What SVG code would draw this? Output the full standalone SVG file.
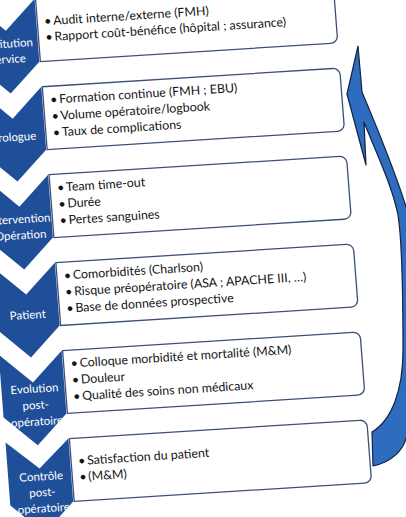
<svg xmlns="http://www.w3.org/2000/svg" width="406" height="517" viewBox="0 0 406 517">
<style>
.chev{fill:#1f4f98;}
.box{fill:#ffffff;stroke:#3b4f78;stroke-width:1.3;}
.lbl{font-family:Lato,"Open Sans",sans-serif;font-size:11.5px;fill:#ffffff;text-anchor:middle;}
.txt{font-family:Lato,"Open Sans",sans-serif;font-size:12.4px;fill:#141414;}
.arr{fill:#2e6cc0;stroke:#14233f;stroke-width:1.2;stroke-linejoin:round;}
</style>
<rect width="406" height="517" fill="#ffffff"/>
<g transform="rotate(-3.6 200 260) translate(-3.6 0) skewX(0.8)">
  <g id="row1">
    <path class="box" d="M56,-11 H347 A7,7 0 0 1 354,-4 V45 A7,7 0 0 1 347,52 H56 Z"/>
    <path class="chev" d="M-8,-11 L24,19 L55,-11 L55,52 L24,82 L-8,52 Z"/>
    <text class="lbl" x="24" y="36">Institution</text>
    <text class="lbl" x="24" y="51.5">service</text>
    <text class="txt" x="63" y="16">•<tspan x="72">Audit interne/externe (FMH)</tspan></text>
    <text class="txt" x="63" y="32">•<tspan x="72">Rapport coût-bénéfice (hôpital ; assurance)</tspan></text>
  </g>
  <g id="row2">
    <path class="box" d="M56,77.2 H347 A7,7 0 0 1 354,84.2 V133.2 A7,7 0 0 1 347,140.2 H56 Z"/>
    <path class="chev" d="M-8,77.2 L24,107.2 L55,77.2 L55,140.2 L24,170.2 L-8,140.2 Z"/>
    <text class="lbl" x="23" y="129.6">Urologue</text>
    <text class="txt" x="63" y="94.7">•<tspan x="72">Formation continue (FMH ; EBU)</tspan></text>
    <text class="txt" x="63" y="111.2">•<tspan x="72">Volume opératoire/logbook</tspan></text>
    <text class="txt" x="63" y="127.7">•<tspan x="72">Taux de complications</tspan></text>
  </g>
  <g id="row3">
    <path class="box" d="M56,165.4 H347 A7,7 0 0 1 354,172.4 V221.4 A7,7 0 0 1 347,228.4 H56 Z"/>
    <path class="chev" d="M-8,165.4 L24,195.4 L55,165.4 L55,228.4 L24,258.4 L-8,228.4 Z"/>
    <text class="lbl" x="23" y="212">Intervention</text>
    <text class="lbl" x="23" y="228">Opération</text>
    <text class="txt" x="63" y="182.9">•<tspan x="72">Team time-out</tspan></text>
    <text class="txt" x="63" y="199.4">•<tspan x="72">Durée</tspan></text>
    <text class="txt" x="63" y="215.9">•<tspan x="72">Pertes sanguines</tspan></text>
  </g>
  <g id="row4">
    <path class="box" d="M56,253.6 H347 A7,7 0 0 1 354,260.6 V309.6 A7,7 0 0 1 347,316.6 H56 Z"/>
    <path class="chev" d="M-8,253.6 L24,283.6 L55,253.6 L55,316.6 L24,346.6 L-8,316.6 Z"/>
    <text class="lbl" x="24" y="308">Patient</text>
    <text class="txt" x="63" y="271.1">•<tspan x="72">Comorbidités (Charlson)</tspan></text>
    <text class="txt" x="63" y="287.6">•<tspan x="72">Risque préopératoire (ASA ; APACHE III, …)</tspan></text>
    <text class="txt" x="63" y="304.1">•<tspan x="72">Base de données prospective</tspan></text>
  </g>
  <g id="row5">
    <path class="box" d="M56,341.8 H347 A7,7 0 0 1 354,348.8 V397.8 A7,7 0 0 1 347,404.8 H56 Z"/>
    <path class="chev" d="M-8,341.8 L24,371.8 L55,341.8 L55,404.8 L24,434.8 L-8,404.8 Z"/>
    <text class="lbl" x="25" y="382">Evolution</text>
    <text class="lbl" x="25" y="398.5">post-</text>
    <text class="lbl" x="25" y="415">opératoire</text>
    <text class="txt" x="63" y="359.3">•<tspan x="72">Colloque morbidité et mortalité (M&amp;M)</tspan></text>
    <text class="txt" x="63" y="375.8">•<tspan x="72">Douleur</tspan></text>
    <text class="txt" x="63" y="392.3">•<tspan x="72">Qualité des soins non médicaux</tspan></text>
  </g>
  <g id="row6">
    <path class="box" d="M56,430 H347 A7,7 0 0 1 354,437 V486 A7,7 0 0 1 347,493 H56 Z"/>
    <path class="chev" d="M-8,430 L24,458 L55,430 L55,493 L24,523 L-8,493 Z"/>
    <text class="lbl" x="25" y="470">Contrôle</text>
    <text class="lbl" x="25" y="486">post-</text>
    <text class="lbl" x="25" y="502">opératoire</text>
    <text class="txt" x="63" y="457">•<tspan x="72">Satisfaction du patient</tspan></text>
    <text class="txt" x="63" y="473">•<tspan x="72">(M&amp;M)</tspan></text>
  </g>
</g>
<g id="connectors">
  <path class="arr" d="M358,46 L347,94 L366,165 L364,122 C375,150 392,185 398,215 C402,240 403,300 403,350 C403,390 392,420 372,432 L373,466 C392,462 404,450 407,435 L410,435 L410,212 L407,210 C398,180 378,130 362,92 Z"/>
</g>
</svg>
